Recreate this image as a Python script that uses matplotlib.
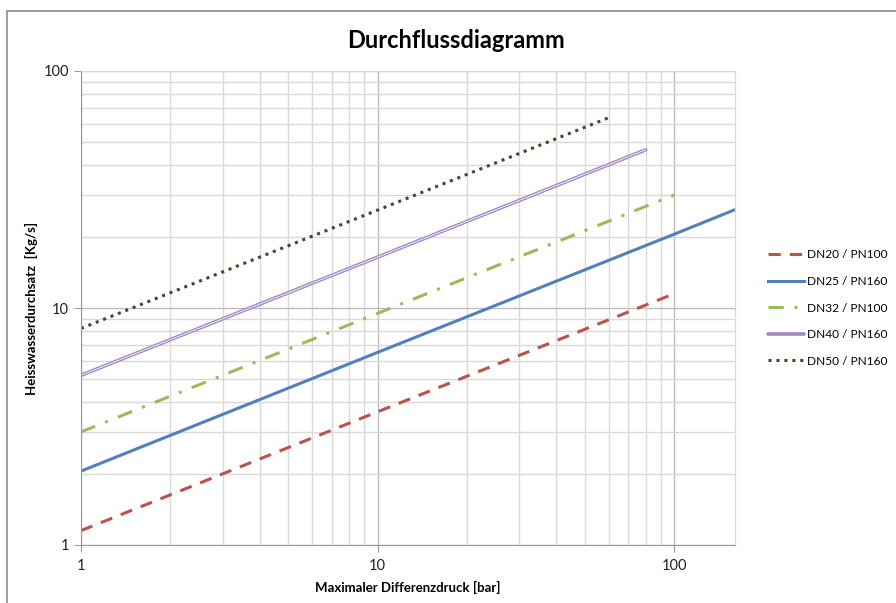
import matplotlib
matplotlib.use('Agg')
import matplotlib.pyplot as plt
from matplotlib.ticker import FixedLocator, NullFormatter, LogLocator
from matplotlib.patches import Rectangle

plt.rcParams['font.family'] = ['Lato', 'DejaVu Sans']

# Daten
dn20_x = [1, 10, 100]
dn20_y = [1.15, 3.65, 11.5]
dn25_x = [1, 10, 100, 160]
dn25_y = [2.05, 6.5, 20.5, 26]
dn32_x = [1, 10, 100]
dn32_y = [3.0, 9.5, 30]
dn40_x = [1, 10, 80]
dn40_y = [5.2, 16.4, 46.5]
dn50_x = [1, 10, 60]
dn50_y = [8.2, 25.9, 63.5]

labels = ['DN20 / PN100', 'DN25 / PN160', 'DN32 / PN100', 'DN40 / PN160', 'DN50 / PN160']

fig = plt.figure(figsize=(8.96, 6.03), dpi=100)
ax = fig.add_axes([81/896, 1-545/603, (735-81)/896, (545-71)/603])

# Rahmen um das Diagramm
fig.patches.append(Rectangle((7/896, -0.05), 1.0, 1-11/603+0.05, transform=fig.transFigure,
                             fill=False, edgecolor='#8c8c8c', linewidth=1.2))

ax.plot(dn20_x, dn20_y, color='#C0504D', lw=2.2, ls=(0, (4, 3)), label=labels[0])
ax.plot(dn25_x, dn25_y, color='#4F81BD', lw=2.2, label=labels[1])
ax.plot(dn32_x, dn32_y, color='#9BBB59', lw=2.2, ls=(0, (5, 3.5, 1, 3.5)), label=labels[2])
ax.plot(dn40_x, dn40_y, color='#A288C2', lw=2.6, label=labels[3], solid_capstyle='round')
ax.plot(dn40_x, dn40_y, color='#F2EEF7', lw=0.7)
ax.plot(dn50_x, dn50_y, color='#4A452A', lw=2.2, ls=(0, (1, 1.6)), label=labels[4])

ax.set_xscale('log')
ax.set_yscale('log')
ax.set_xlim(1, 160)
ax.set_ylim(1, 100)

ax.xaxis.set_major_locator(FixedLocator([1, 10, 100]))
ax.yaxis.set_major_locator(FixedLocator([1, 10, 100]))
ax.xaxis.set_minor_locator(LogLocator(base=10, subs=range(2, 10)))
ax.yaxis.set_minor_locator(LogLocator(base=10, subs=range(2, 10)))
ax.xaxis.set_minor_formatter(NullFormatter())
ax.yaxis.set_minor_formatter(NullFormatter())
ax.set_xticklabels(['1', '10', '100'])
ax.set_yticklabels(['1', '10', '100'])

ax.grid(True, which='minor', color='#D9D9D9', lw=1)
ax.grid(True, which='major', color='#BDBDBD', lw=1)
ax.set_axisbelow(True)

ax.tick_params(which='minor', length=0)
ax.tick_params(which='major', length=5, color='#9a9a9a', labelsize=10.5, labelcolor='#222222')
ax.tick_params(axis='x', pad=5)

for s in ['top', 'right']:
    ax.spines[s].set_color('#D9D9D9')
for s in ['left', 'bottom']:
    ax.spines[s].set_color('#9a9a9a')

fig.text(456/896, 1-40/603, 'Durchflussdiagramm', fontsize=17, fontweight='bold',
         ha='center', va='center')
ax.set_xlabel('Maximaler Differenzdruck [bar]', fontsize=9.5, fontweight='bold', labelpad=6)
ax.set_ylabel('Heisswasserdurchsatz  [Kg/s]', fontsize=9.5, fontweight='bold', labelpad=4)

ax.legend(loc='center left', bbox_to_anchor=(1.043, 0.50), frameon=False, fontsize=8.6,
          borderaxespad=0, handlelength=3.0, handletextpad=0.3, labelspacing=1.3)

plt.savefig('out.png', dpi=100)
